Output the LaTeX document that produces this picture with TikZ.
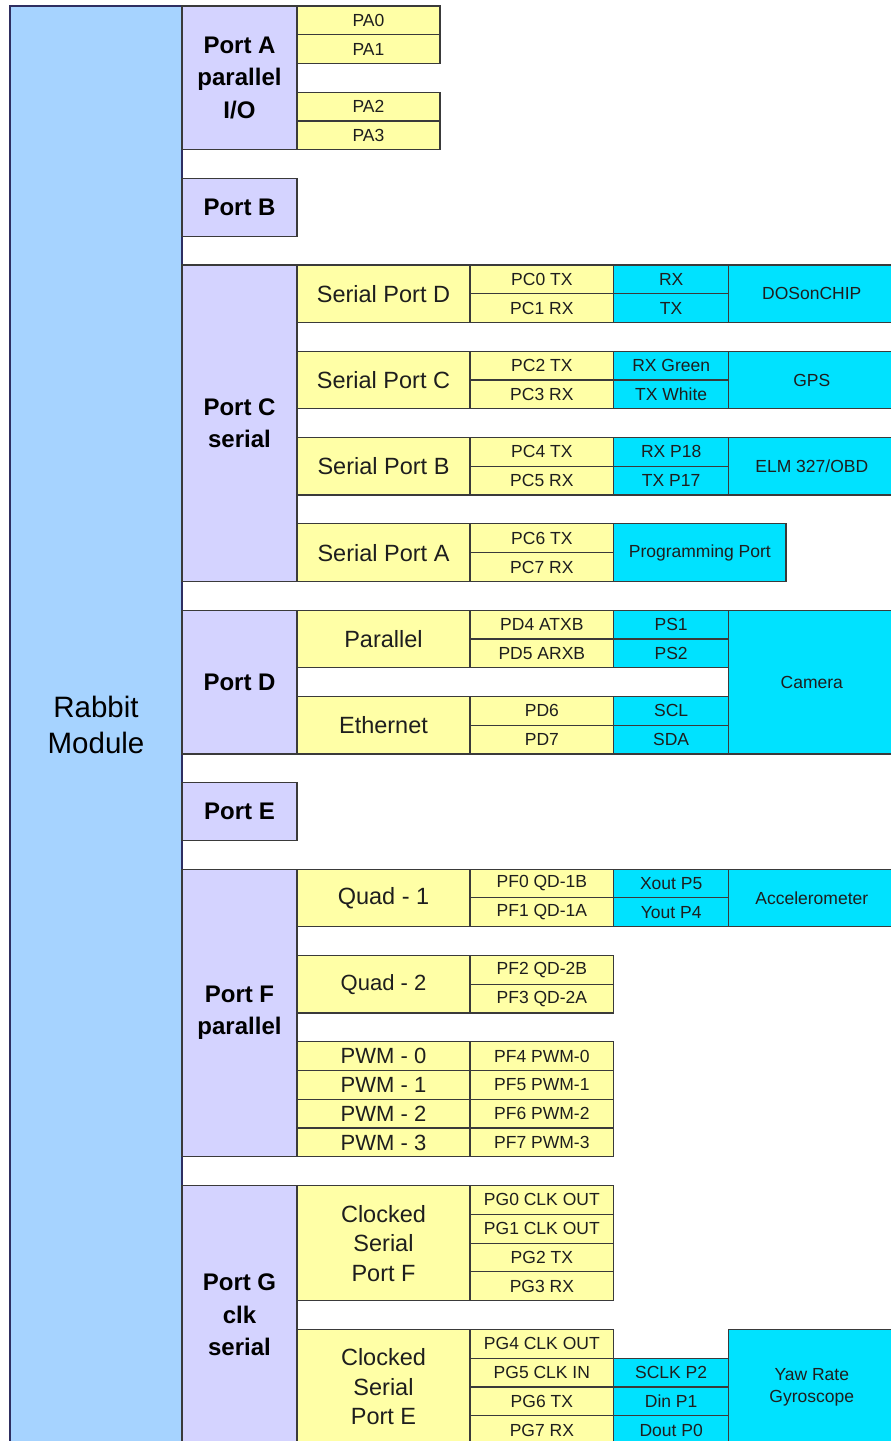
\documentclass[tikz,border=0pt]{standalone}
\usepackage{fontspec}
\setmainfont{Liberation Sans}
\definecolor{rabbitblue}{HTML}{A6D3FF}
\definecolor{portlav}{HTML}{D4D3FF}
\definecolor{pinyel}{HTML}{FFFFA6}
\definecolor{devcyan}{HTML}{00E2FF}
\definecolor{edge}{HTML}{3A3A3A}
\definecolor{ink}{HTML}{1E1E1E}
% one rectangular cell: style, name, x-left, x-right, first row, last row, text
\newcommand{\cellbox}[7]{%
  \node[#1, anchor=north west, minimum width={(#4-#3)*1pt},
        minimum height={(#6-#5)*28.77pt}] (#2) at (#3,#5) {#7};}
\begin{document}
\begin{tikzpicture}[x=1pt, y=-28.77pt,
  cell/.style={draw=edge, line width=1.2pt, inner sep=0pt, outer sep=0pt,
               align=center, text=ink},
  modbox/.style={cell, draw=edge!80!blue, fill=rabbitblue, text=black,
                 font=\fontsize{29.5}{36}\selectfont},
  portbox/.style={cell, fill=portlav, text=black,
                  font=\fontsize{24}{32.5}\selectfont\bfseries},
  subbox/.style={cell, fill=pinyel, font=\fontsize{23.5}{29.5}\selectfont},
  subsmall/.style={cell, fill=pinyel, font=\fontsize{22}{26}\selectfont},
  pinbox/.style={cell, fill=pinyel, font=\fontsize{17.5}{20}\selectfont},
  cpin/.style={cell, fill=devcyan, font=\fontsize{17.5}{20}\selectfont},
  devbox/.style={cell, fill=devcyan, font=\fontsize{17.5}{22}\selectfont}]
\useasboundingbox (0pt,0pt) rectangle (891pt,-1441pt);
\clip (0pt,0pt) rectangle (891pt,-1441pt);
\begin{scope}[yshift=-6pt]
% main module
\cellbox{modbox}{rabbit}{10}{182}{0}{50}{Rabbit\\Module}
% Port A
\cellbox{portbox}{pA}{182}{297}{0}{5}{Port A\\parallel\\I/O}
\cellbox{pinbox}{pa0}{297}{440}{0}{1}{PA0}
\cellbox{pinbox}{pa1}{297}{440}{1}{2}{PA1}
\cellbox{pinbox}{pa2}{297}{440}{3}{4}{PA2}
\cellbox{pinbox}{pa3}{297}{440}{4}{5}{PA3}
% Port B
\cellbox{portbox}{pB}{182}{297}{6}{8}{Port B}
% Port C
\cellbox{portbox}{pC}{182}{297}{9}{20}{Port C\\serial}
\cellbox{subbox}{spD}{297}{470}{9}{11}{Serial Port D}
\cellbox{pinbox}{pc0}{470}{613.7}{9}{10}{PC0 TX}
\cellbox{pinbox}{pc1}{470}{613.7}{10}{11}{PC1 RX}
\cellbox{cpin}{dosrx}{613.7}{728.6}{9}{10}{RX}
\cellbox{cpin}{dostx}{613.7}{728.6}{10}{11}{TX}
\cellbox{devbox}{dos}{728.6}{895}{9}{11}{DOSonCHIP}
\cellbox{subbox}{spC}{297}{470}{12}{14}{Serial Port C}
\cellbox{pinbox}{pc2}{470}{613.7}{12}{13}{PC2 TX}
\cellbox{pinbox}{pc3}{470}{613.7}{13}{14}{PC3 RX}
\cellbox{cpin}{gpsrx}{613.7}{728.6}{12}{13}{RX Green}
\cellbox{cpin}{gpstx}{613.7}{728.6}{13}{14}{TX White}
\cellbox{devbox}{gps}{728.6}{895}{12}{14}{GPS}
\cellbox{subbox}{spB}{297}{470}{15}{17}{Serial Port B}
\cellbox{pinbox}{pc4}{470}{613.7}{15}{16}{PC4 TX}
\cellbox{pinbox}{pc5}{470}{613.7}{16}{17}{PC5 RX}
\cellbox{cpin}{elmrx}{613.7}{728.6}{15}{16}{RX P18}
\cellbox{cpin}{elmtx}{613.7}{728.6}{16}{17}{TX P17}
\cellbox{devbox}{elm}{728.6}{895}{15}{17}{ELM 327/OBD}
\cellbox{subbox}{spA}{297}{470}{18}{20}{Serial Port A}
\cellbox{pinbox}{pc6}{470}{613.7}{18}{19}{PC6 TX}
\cellbox{pinbox}{pc7}{470}{613.7}{19}{20}{PC7 RX}
\cellbox{devbox}{prog}{613.7}{786}{18}{20}{Programming Port}
% Port D
\cellbox{portbox}{pD}{182}{297}{21}{26}{Port D}
\cellbox{subbox}{par}{297}{470}{21}{23}{Parallel}
\cellbox{pinbox}{pd4}{470}{613.7}{21}{22}{PD4 ATXB}
\cellbox{pinbox}{pd5}{470}{613.7}{22}{23}{PD5 ARXB}
\cellbox{cpin}{ps1}{613.7}{728.6}{21}{22}{PS1}
\cellbox{cpin}{ps2}{613.7}{728.6}{22}{23}{PS2}
\cellbox{subbox}{eth}{297}{470}{24}{26}{Ethernet}
\cellbox{pinbox}{pd6}{470}{613.7}{24}{25}{PD6}
\cellbox{pinbox}{pd7}{470}{613.7}{25}{26}{PD7}
\cellbox{cpin}{scl}{613.7}{728.6}{24}{25}{SCL}
\cellbox{cpin}{sda}{613.7}{728.6}{25}{26}{SDA}
\cellbox{devbox}{cam}{728.6}{895}{21}{26}{Camera}
% Port E
\cellbox{portbox}{pE}{182}{297}{27}{29}{Port E}
% Port F
\cellbox{portbox}{pF}{182}{297}{30}{40}{Port F\\parallel}
\cellbox{subbox}{q1}{297}{470}{30}{32}{Quad - 1}
\cellbox{pinbox}{pf0}{470}{613.7}{30}{31}{PF0 QD-1B}
\cellbox{pinbox}{pf1}{470}{613.7}{31}{32}{PF1 QD-1A}
\cellbox{cpin}{xout}{613.7}{728.6}{30}{31}{Xout P5}
\cellbox{cpin}{yout}{613.7}{728.6}{31}{32}{Yout P4}
\cellbox{devbox}{acc}{728.6}{895}{30}{32}{Accelerometer}
\cellbox{subsmall}{q2}{297}{470}{33}{35}{Quad - 2}
\cellbox{pinbox}{pf2}{470}{613.7}{33}{34}{PF2 QD-2B}
\cellbox{pinbox}{pf3}{470}{613.7}{34}{35}{PF3 QD-2A}
\cellbox{subsmall}{pwm0}{297}{470}{36}{37}{PWM - 0}
\cellbox{subsmall}{pwm1}{297}{470}{37}{38}{PWM - 1}
\cellbox{subsmall}{pwm2}{297}{470}{38}{39}{PWM - 2}
\cellbox{subsmall}{pwm3}{297}{470}{39}{40}{PWM - 3}
\cellbox{pinbox}{pf4}{470}{613.7}{36}{37}{PF4 PWM-0}
\cellbox{pinbox}{pf5}{470}{613.7}{37}{38}{PF5 PWM-1}
\cellbox{pinbox}{pf6}{470}{613.7}{38}{39}{PF6 PWM-2}
\cellbox{pinbox}{pf7}{470}{613.7}{39}{40}{PF7 PWM-3}
% Port G
\cellbox{portbox}{pG}{182}{297}{41}{50}{Port G\\clk\\serial}
\cellbox{subbox}{cspF}{297}{470}{41}{45}{Clocked\\Serial\\Port F}
\cellbox{pinbox}{pg0}{470}{613.7}{41}{42}{PG0 CLK OUT}
\cellbox{pinbox}{pg1}{470}{613.7}{42}{43}{PG1 CLK OUT}
\cellbox{pinbox}{pg2}{470}{613.7}{43}{44}{PG2 TX}
\cellbox{pinbox}{pg3}{470}{613.7}{44}{45}{PG3 RX}
\cellbox{subbox}{cspE}{297}{470}{46}{50}{Clocked\\Serial\\Port E}
\cellbox{pinbox}{pg4}{470}{613.7}{46}{47}{PG4 CLK OUT}
\cellbox{pinbox}{pg5}{470}{613.7}{47}{48}{PG5 CLK IN}
\cellbox{pinbox}{pg6}{470}{613.7}{48}{49}{PG6 TX}
\cellbox{pinbox}{pg7}{470}{613.7}{49}{50}{PG7 RX}
\cellbox{cpin}{sclk}{613.7}{728.6}{47}{48}{SCLK P2}
\cellbox{cpin}{din}{613.7}{728.6}{48}{49}{Din P1}
\cellbox{cpin}{dout}{613.7}{728.6}{49}{50}{Dout P0}
\cellbox{devbox}{gyro}{728.6}{895}{46}{50}{Yaw Rate\\Gyroscope}
\end{scope}
\end{tikzpicture}
\end{document}
